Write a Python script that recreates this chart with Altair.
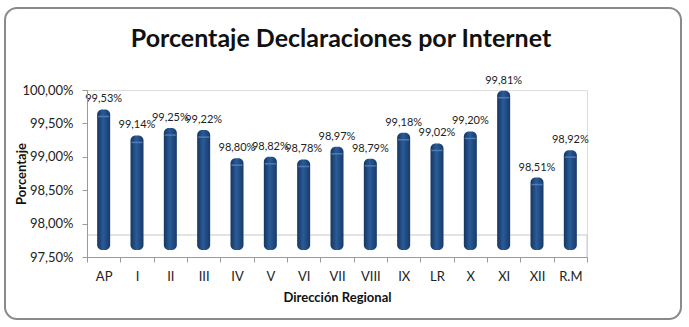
import altair as alt
import pandas as pd

regions = ["AP", "I", "II", "III", "IV", "V", "VI", "VII", "VIII", "IX", "LR", "X", "XI", "XII", "R.M"]
values = [99.53, 99.14, 99.25, 99.22, 98.80, 98.82, 98.78, 98.97, 98.79, 99.18, 99.02, 99.20, 99.81, 98.51, 98.92]
y_ticks = [97.5, 98.0, 98.5, 99.0, 99.5, 100.0]
title_text = "Porcentaje Declaraciones por Internet"

df = pd.DataFrame({"region": regions, "value": values})

W, H = 500, 167
FONT = "Lato"

x_enc = alt.X(
    "region:N",
    sort=regions,
    scale=alt.Scale(paddingInner=0.0, paddingOuter=0.0),
    axis=alt.Axis(
        title="Dirección Regional",
        labelAngle=0,
        tickBand="extent",
        labelFont=FONT,
        labelFontSize=13,
        labelColor="#222222",
        labelPadding=8,
        titleFont=FONT,
        titleFontSize=13,
        titleFontWeight="bold",
        titleColor="#111111",
        titlePadding=8,
        domainColor="#9a9a9a",
        tickColor="#9a9a9a",
        tickSize=5,
        zindex=1,
    ),
)

y_enc = alt.Y(
    "value:Q",
    scale=alt.Scale(domain=[97.5, 100.0], zero=False, nice=False),
    axis=alt.Axis(
        title="Porcentaje",
        values=y_ticks,
        labelExpr="replace(format(datum.value, '.2f'), '.', ',') + '%'",
        labelOverlap=False,
        labelFlush=False,
        grid=False,
        labelFont=FONT,
        labelFontSize=13,
        labelColor="#222222",
        labelPadding=9,
        titleFont=FONT,
        titleFontSize=13,
        titleFontWeight="bold",
        titleColor="#111111",
        titleX=-66,
        titleY=H / 2,
        titleAngle=-90,
        titleAlign="center",
        titleBaseline="middle",
        domainColor="#9a9a9a",
        tickColor="#9a9a9a",
        tickSize=5,
        zindex=1,
    ),
)

one = pd.DataFrame({"t": [title_text]})

frame = alt.Chart(one).mark_rect(
    fill="white", fillOpacity=0, stroke="#8a8a8a", strokeWidth=2, cornerRadius=12, clip=False
).encode(
    x=alt.value(-82), x2=alt.value(594), y=alt.value(-82), y2=alt.value(229)
)

title = alt.Chart(one).mark_text(
    font=FONT, fontSize=25, fontWeight="bold", color="#111111",
    align="center", baseline="alphabetic", clip=False
).encode(x=alt.value(W / 2 + 4), y=alt.value(-43), text="t:N")

floor = alt.Chart(one).mark_rule(
    color="#c8c8c8", strokeWidth=1
).encode(
    x=alt.value(0), x2=alt.value(W), y=alt.value(H - 22)
)
floor_edge = alt.Chart(one).mark_rule(
    color="#c8c8c8", strokeWidth=1
).encode(
    x=alt.value(W), y=alt.value(H - 22), y2=alt.value(H)
)

base = alt.Chart(df)

bars = base.mark_bar(
    size=13,
    cornerRadius=5,
    yOffset=-12,
    y2Offset=-7,
    clip=False,
    color={
        "gradient": "linear",
        "x1": 0, "x2": 1, "y1": 0, "y2": 0,
        "stops": [
            {"offset": 0, "color": "#15355f"},
            {"offset": 0.45, "color": "#2a5b98"},
            {"offset": 1, "color": "#173a68"},
        ],
    },
).encode(x=x_enc, y=y_enc, y2=alt.datum(97.5))

caps = base.mark_tick(
    size=11, thickness=1.5, yOffset=-5, color="#5b86c0", opacity=0.8, clip=False
).encode(x=x_enc, y=y_enc)

labels = base.transform_calculate(
    lab="replace(format(datum.value, '.2f'), '.', ',') + '%'"
).mark_text(
    dy=-22, baseline="middle", align="center", font=FONT, fontSize=11, color="#222222", clip=False
).encode(x=x_enc, y=y_enc, text="lab:N")

chart = alt.layer(frame, floor, floor_edge, bars, caps, labels, title).properties(
    width=W,
    height=H,
    autosize=alt.AutoSizeParams(type="none"),
    padding={"left": 87, "top": 90, "right": 102, "bottom": 70},
).configure_view(stroke=None).configure(background="white")

chart.save("out.html", embed_options={"renderer": "svg", "actions": False})
